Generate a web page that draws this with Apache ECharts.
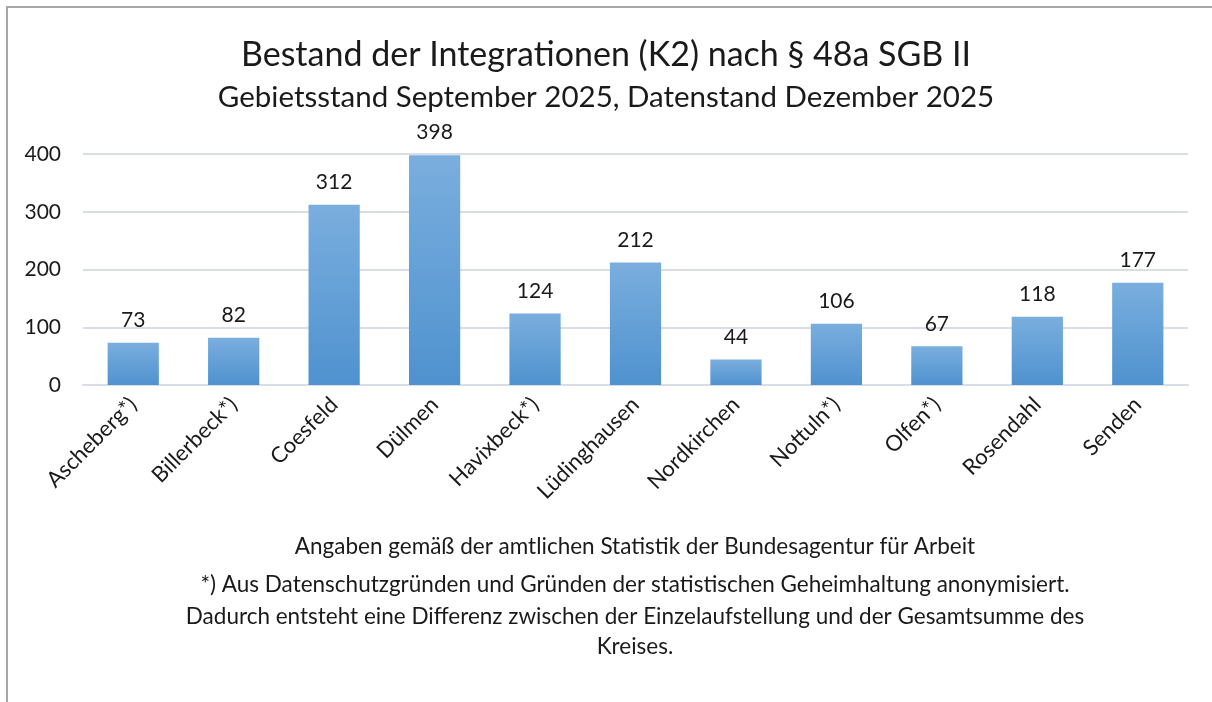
<!DOCTYPE html>
<html><head><meta charset="utf-8">
<script src="https://cdn.jsdelivr.net/npm/echarts@6/dist/echarts.min.js"></script>
<style>html,body{margin:0;padding:0;background:#fff}#c{width:1212px;height:702px}</style>
</head><body><div id="c"></div>
<script>
const categories = ["Ascheberg*)","Billerbeck*)","Coesfeld","Dülmen","Havixbeck*)","Lüdinghausen","Nordkirchen","Nottuln*)","Olfen*)","Rosendahl","Senden"];
const values = [73,82,312,398,124,212,44,106,67,118,177];
const yTicks = [0,100,200,300,400];
const titleText = "Bestand der Integrationen (K2) nach § 48a SGB II";
const subtitleText = "Gebietsstand September 2025, Datenstand Dezember 2025";
const footerLines = [
  "Angaben gemäß der amtlichen Statistik der Bundesagentur für Arbeit",
  "*) Aus Datenschutzgründen und Gründen der statistischen Geheimhaltung anonymisiert.",
  "Dadurch entsteht eine Differenz zwischen der Einzelaufstellung und der Gesamtsumme des",
  "Kreises."
];
const FONT = "Lato, 'Open Sans', sans-serif";
const chart = echarts.init(document.getElementById('c'), null, {renderer:'canvas'});
const footerY = [547, 585, 617, 647];
chart.setOption({
  animation:false,
  title:[
    {text:titleText, left:'center', top:33, textStyle:{fontFamily:FONT, fontSize:34, fontWeight:'normal', color:'#1a1a1a'}},
    {text:subtitleText, left:'center', top:77, textStyle:{fontFamily:FONT, fontSize:29.5, fontWeight:'normal', color:'#1a1a1a'}}
  ],
  grid:{left:83, right:24, top:154, bottom:317, containLabel:false},
  xAxis:{type:'category', data:categories,
    axisLine:{show:true, lineStyle:{color:'#d9dde5', width:2}},
    axisTick:{show:false},
    axisLabel:{rotate:45, interval:0, margin:16, fontFamily:FONT, fontSize:22, color:'#1a1a1a'}},
  yAxis:{type:'value', min:yTicks[0], max:yTicks[yTicks.length-1], interval:100,
    axisLine:{show:false}, axisTick:{show:false},
    splitLine:{lineStyle:{color:'#d9dde5', width:2}},
    axisLabel:{margin:22, fontFamily:FONT, fontSize:21, color:'#1a1a1a'}},
  series:[{type:'bar', data:values, barWidth:'51%',
    itemStyle:{color:new echarts.graphic.LinearGradient(0,0,0,1,[{offset:0,color:'#7aaede'},{offset:1,color:'#4f92cf'}])},
    label:{show:true, position:'top', distance:12, fontFamily:FONT, fontSize:21, color:'#1a1a1a'}}],
  graphic:[
    {type:'polyline', shape:{points:[[7,710],[7,7],[1220,7]]}, style:{stroke:'#a6a6a6', lineWidth:2, fill:null}},
    ...footerLines.map((t,i)=>({type:'text', x:635, y:footerY[i], style:{text:t, x:0, y:0, align:'center', verticalAlign:'middle', fontFamily:FONT, fontSize:22.5, fill:'#1a1a1a'}}))
  ]
});
</script></body></html>
